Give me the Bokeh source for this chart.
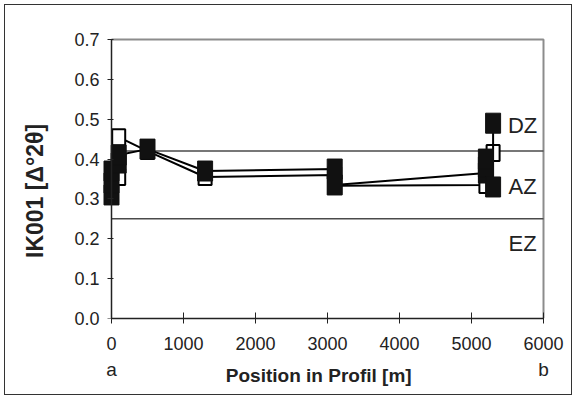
from bokeh.plotting import figure
from bokeh.models import Range1d, FixedTicker, Label, LinearAxis
from bokeh.embed import file_html
from bokeh.resources import INLINE

# Illite crystallinity (Kübler index) along the profile a-b
# filled squares: series 1, open squares: series 2 (path order along the line)
pos_filled = [0, 0, 0, 100, 100, 500, 1300, 3100, 3100, 5200, 5200, 5200, 5300, 5300]
ik_filled = [0.31, 0.34, 0.37, 0.39, 0.41, 0.425, 0.37, 0.375, 0.335, 0.365, 0.38, 0.40, 0.33, 0.49]

pos_open = [100, 100, 500, 1300, 3100, 3100, 5200, 5300]
ik_open = [0.355, 0.455, 0.42, 0.355, 0.36, 0.333, 0.335, 0.415]

# zone boundaries (anchizone limits) and zone names
zone_bounds = [0.42, 0.25]
zone_names = ["DZ", "AZ", "EZ"]
zone_label_y = [0.483, 0.33, 0.188]

x_ticks = [0, 1000, 2000, 3000, 4000, 5000, 6000]
y_ticks = [0.0, 0.1, 0.2, 0.3, 0.4, 0.5, 0.6, 0.7]
end_labels = ["a", "b"]
end_pos = [0, 6000]

FONT = "Liberation Sans"
INK = "#222222"
NBSP = "\u00a0"
W, H = 576, 399
# frame geometry (pixels)
FL, FW = 100, 447
FT, FH = 31, 287
XPX = 432 / 6000.0          # px per metre
YPX = 279 / 0.7             # px per index unit

x0 = -(111 - FL) / XPX
x1 = x0 + FW / XPX
y1 = 0.7 + (39 - FT) / YPX

p = figure(width=W, height=H, output_backend="svg", toolbar_location=None,
           x_range=Range1d(x0, x1), y_range=Range1d(0, y1),
           min_border_left=FL, min_border_right=W - FL - FW,
           min_border_top=FT, min_border_bottom=H - FT - FH)
p.grid.visible = False
p.outline_line_color = None
p.background_fill_color = "white"
p.border_fill_color = None
# outer chart border, drawn by the host element
p.styles = {"outline": "1.5px solid #333333", "outline-offset": "-5px",
            "background-color": "white"}

# plot-area border (top and right)
p.line([0, 6000, 6000], [0.7, 0.7, 0.0], line_color="#8c8c8c", line_width=2)

# zone boundary lines
for yb in zone_bounds:
    p.line([0, 6000], [yb, yb], line_color="#4a4a4a", line_width=1.5)

# series 2: open squares
p.line(pos_open, ik_open, line_color="black", line_width=2)
p.rect(pos_open, ik_open, width=13, height=16, width_units="screen", height_units="screen",
       fill_color="white", line_color="black", line_width=2)

# series 1: filled squares
p.line(pos_filled, ik_filled, line_color="black", line_width=2)
p.rect(pos_filled, ik_filled, width=15, height=20, width_units="screen", height_units="screen",
       fill_color="#111111", line_color="#111111", line_width=1)

# zone names
for name, yl in zip(zone_names, zone_label_y):
    p.add_layout(Label(x=5710, y=yl, text=name, text_font=FONT, text_font_size="22px",
                       text_color=INK, text_align="center", text_baseline="middle"))

# x axis: line, ticks and numbers
xa = p.xaxis[0]
xa.ticker = FixedTicker(ticks=x_ticks)
xa.bounds = (0, 6000)
xa.axis_line_color = INK
xa.axis_line_width = 1.5
xa.major_tick_line_color = INK
xa.major_tick_in = 6
xa.major_tick_out = 5
xa.minor_tick_line_color = None
xa.major_label_text_font = FONT
xa.major_label_text_font_size = "18px"
xa.major_label_text_color = INK
xa.major_label_standoff = 13

# profile end points a / b plus the axis title
xe = LinearAxis(ticker=FixedTicker(ticks=end_pos),
                major_label_overrides={v: t for v, t in zip(end_pos, end_labels)},
                axis_line_color=None, major_tick_line_color=None, minor_tick_line_color=None,
                major_tick_out=0, major_tick_in=0, major_label_standoff=6,
                major_label_text_font=FONT, major_label_text_font_size="19px",
                major_label_text_color=INK,
                axis_label="Position in Profil [m]" + NBSP * 2, axis_label_text_font=FONT,
                axis_label_text_font_size="19px", axis_label_text_font_style="bold",
                axis_label_text_color=INK, axis_label_standoff=-18)
p.add_layout(xe, "below")

# y axis line and ticks sit at x = 0
ya = p.yaxis[0]
ya.ticker = FixedTicker(ticks=y_ticks)
ya.bounds = (0, 0.7)
ya.fixed_location = 0
ya.axis_line_color = INK
ya.axis_line_width = 1.5
ya.major_tick_line_color = INK
ya.major_tick_in = 2
ya.major_tick_out = 4
ya.minor_tick_line_color = None
ya.major_label_overrides = {v: "" for v in y_ticks}
ya.major_label_standoff = 0

# y numbers and title
yl_axis = LinearAxis(ticker=FixedTicker(ticks=y_ticks),
                     major_label_overrides={v: f"{v:.1f}" for v in y_ticks},
                     axis_line_color=None, major_tick_line_color=None, minor_tick_line_color=None,
                     major_tick_out=0, major_tick_in=0, major_label_standoff=1,
                     major_label_text_font=FONT, major_label_text_font_size="18px",
                     major_label_text_color=INK,
                     axis_label="IK001 [Δ°2θ]" + NBSP * 5, axis_label_text_font=FONT,
                     axis_label_text_font_size="23px", axis_label_text_font_style="bold",
                     axis_label_text_color=INK, axis_label_standoff=23)
p.add_layout(yl_axis, "left")

open("out.html", "w").write(file_html(p, INLINE))
